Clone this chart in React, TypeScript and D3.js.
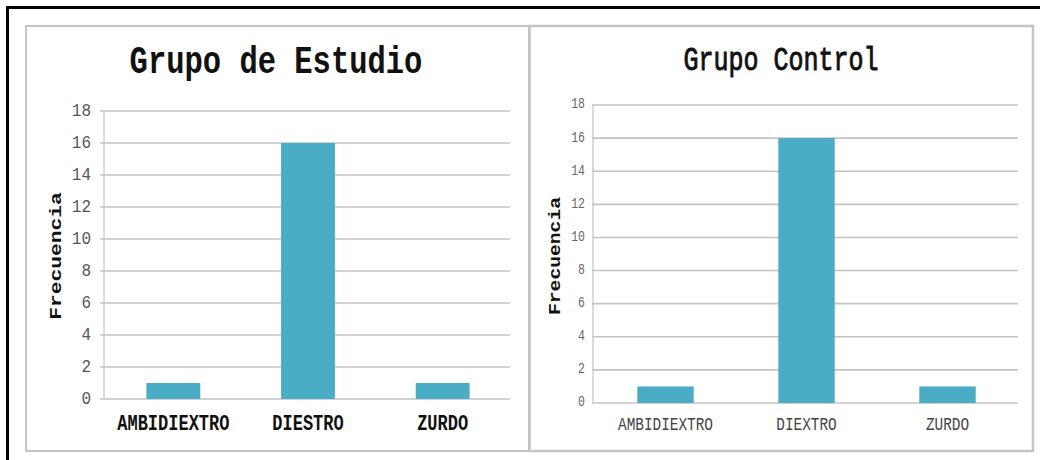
import React from "react";
import * as d3 from "d3";

const categoriesEstudio = ["AMBIDIEXTRO", "DIESTRO", "ZURDO"];
const valuesEstudio = [1, 16, 1];
const categoriesControl = ["AMBIDIEXTRO", "DIEXTRO", "ZURDO"];
const valuesControl = [1, 16, 1];
const yTicks = [0, 2, 4, 6, 8, 10, 12, 14, 16, 18];
const titles = ["Grupo de Estudio", "Grupo Control"];
const yLabel = "Frecuencia";

const BAR = "#4bacc6";
const GRID = "#c3c3c3";
const MONO = "'Liberation Mono', 'Courier New', monospace";

type TxtProps = {
  x: number;
  y: number;
  k: number;
  size: number;
  weight?: string;
  fill?: string;
  anchor?: string;
  rotate?: number;
  stroke?: string;
  strokeWidth?: number;
  children: React.ReactNode;
};

function Txt({ x, y, k, size, weight = "normal", fill = "#000", anchor = "middle", rotate = 0, stroke, strokeWidth, children }: TxtProps) {
  return (
    <text
      transform={`translate(${x},${y}) scale(1,${k}) rotate(${rotate})`}
      fontFamily={MONO}
      fontSize={size}
      fontWeight={weight}
      fill={fill}
      textAnchor={anchor}
      stroke={stroke}
      strokeWidth={strokeWidth}
    >
      {children}
    </text>
  );
}

type PanelCfg = {
  cats: string[];
  vals: number[];
  title: string;
  x0: number;
  x1: number;
  yTop: number;
  yBot: number;
  gridLeft: number;
  titleX: number;
  titleY: number;
  titleSize: number;
  titleK: number;
  titleWeight: string;
  titleStroke?: number;
  tickSize: number;
  tickK: number;
  tickX: number;
  tickFill: string;
  labSize: number;
  labK: number;
  labWeight: string;
  labFill: string;
  labY: number;
  yLabX: number;
  yLabY: number;
  yLabSize: number;
  yLabK: number;
};

function Chart(c: PanelCfg) {
  const x = d3.scaleBand<string>().domain(c.cats).range([c.x0, c.x1]).paddingInner(0.6).paddingOuter(0.3);
  const y = d3.scaleLinear().domain([0, 18]).range([c.yBot, c.yTop]);
  return (
    <g>
      <Txt x={c.titleX} y={c.titleY} k={c.titleK} size={c.titleSize} weight={c.titleWeight} fill="#111" stroke={c.titleStroke ? "#111" : undefined} strokeWidth={c.titleStroke}>
        {c.title}
      </Txt>
      {yTicks.map((t) => (
        <line key={"g" + t} x1={c.gridLeft} x2={c.x1} y1={y(t)} y2={y(t)} stroke={GRID} strokeWidth={1.6} />
      ))}
      <line x1={c.x0 - 2} x2={c.x0 - 2} y1={y(18)} y2={y(0)} stroke={GRID} strokeWidth={1.2} />
      {yTicks.map((t) => (
        <Txt key={"t" + t} x={c.tickX} y={y(t) + c.tickSize * 0.3} k={c.tickK} size={c.tickSize} fill={c.tickFill} anchor="end">
          {t}
        </Txt>
      ))}
      {c.cats.map((cat, i) => (
        <rect key={cat} x={x(cat)!} width={x.bandwidth()} y={y(c.vals[i])} height={y(0) - y(c.vals[i])} fill={BAR} />
      ))}
      {c.cats.map((cat) => (
        <Txt key={"l" + cat} x={x(cat)! + x.bandwidth() / 2} y={c.labY} k={c.labK} size={c.labSize} weight={c.labWeight} fill={c.labFill}>
          {cat}
        </Txt>
      ))}
      <Txt x={c.yLabX} y={c.yLabY} k={c.yLabK} size={c.yLabSize} weight="bold" fill="#111" rotate={-90}>
        {yLabel}
      </Txt>
    </g>
  );
}

export default function App() {
  return (
    <svg width={1040} height={460} style={{ position: "absolute", left: 0, top: 0, background: "#fff" }}>
      <rect x={0} y={0} width={1040} height={460} fill="#fff" />
      {/* black outer frame (top and left) */}
      <line x1={6} x2={1040} y1={7.5} y2={7.5} stroke="#000" strokeWidth={3} />
      <line x1={7.5} x2={7.5} y1={6} y2={460} stroke="#000" strokeWidth={3} />
      {/* panel borders */}
      <rect x={26} y={26} width={503} height={425} fill="none" stroke="#c4c4c4" strokeWidth={2} />
      <rect x={529.5} y={26} width={503.5} height={425} fill="none" stroke="#c4c4c4" strokeWidth={2.5} />
      <Chart
        cats={categoriesEstudio}
        vals={valuesEstudio}
        title={titles[0]}
        x0={106}
        x1={510}
        yTop={111}
        yBot={399}
        gridLeft={100}
        titleX={276}
        titleY={73}
        titleSize={30.5}
        titleK={1.25}
        titleWeight="bold"
        tickSize={16}
        tickK={1.15}
        tickX={91}
        tickFill="#555"
        labSize={17}
        labK={1.3}
        labWeight="bold"
        labFill="#111"
        labY={430}
        yLabX={61}
        yLabY={256}
        yLabSize={17}
        yLabK={1.25}
      />
      <Chart
        cats={categoriesControl}
        vals={valuesControl}
        title={titles[1]}
        x0={595}
        x1={1018}
        yTop={105}
        yBot={403}
        gridLeft={592}
        titleX={781}
        titleY={70}
        titleSize={25}
        titleK={1.36}
        titleWeight="normal"
        titleStroke={0.7}
        tickSize={11.5}
        tickK={1.2}
        tickX={585}
        tickFill="#666"
        labSize={14.4}
        labK={1.26}
        labWeight="normal"
        labFill="#444"
        labY={430}
        yLabX={560}
        yLabY={256}
        yLabSize={16}
        yLabK={1.23}
      />
    </svg>
  );
}
